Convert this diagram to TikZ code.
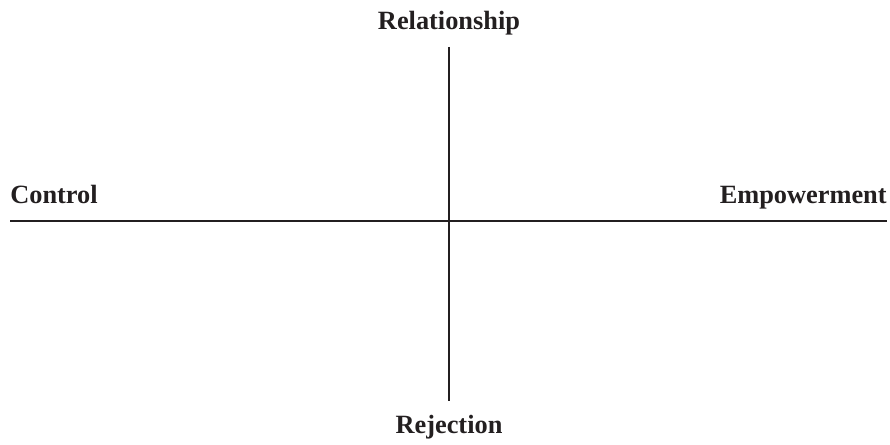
\documentclass[tikz,border=0pt]{standalone}
\usepackage{fontspec}
\setmainfont{Liberation Serif}
\usetikzlibrary{positioning}
\definecolor{ink}{HTML}{231F20}

\begin{document}
\begin{tikzpicture}[
    x=0.02cm, y=-0.02cm,
    axis/.style={line width=1.6pt, color=ink},
    pole/.style={font=\fontsize{15}{18}\selectfont\bfseries, inner sep=0pt, text=ink}
]
% Frame of the picture
\useasboundingbox (0,0) rectangle (890,445);

% Ends of the two axes
\coordinate (top) at (449,47);
\coordinate (bottom) at (449,401);
\coordinate (left) at (10,221);
\coordinate (right) at (887,221);

% Pole labels
\node[pole, anchor=base] (relationship) at (449,30) {Relationship};
\node[pole, anchor=base] (rejection) at (449,434) {Rejection};
\node[pole, anchor=base west] (control) at (10,204) {Control};
\node[pole, anchor=base east] (empowerment) at (887,204) {Empowerment};

% Axes
\draw[axis] (left) -- (right);
\draw[axis] (top) -- (bottom);

\end{tikzpicture}
\end{document}
